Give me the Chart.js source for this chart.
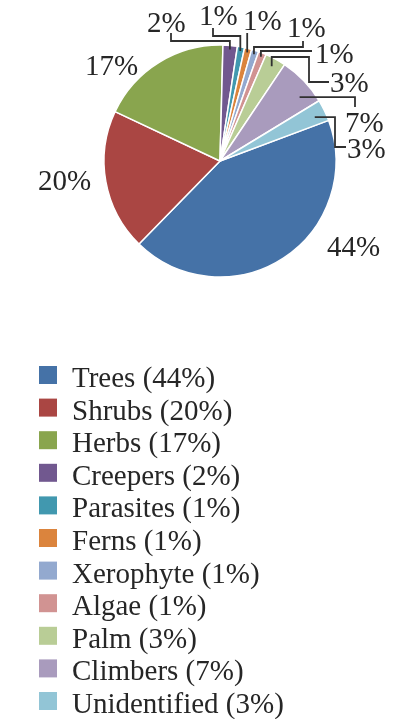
<!DOCTYPE html>
<html>
<head>
<meta charset="utf-8">
<script src="https://cdn.jsdelivr.net/npm/chart.js@4"></script>
<style>
   html, body { margin: 0; padding: 0; background: #fff; }
   #wrap { width: 416px; height: 719px; }
</style>
</head>
<body>
<div id="wrap"><canvas id="pieChart" width="416" height="719"></canvas></div>
<script>
// plant groups, in legend order
const categories = ['Trees', 'Shrubs', 'Herbs', 'Creepers', 'Parasites', 'Ferns',
   'Xerophyte', 'Algae', 'Palm', 'Climbers', 'Unidentified'];
// slice sizes (%)
const shares = [43, 19.7, 18.4, 2, 1, 1, 1, 1.1, 2.9, 6.9, 3];
// percentages printed on the chart and in the legend
const shownPct = [44, 20, 17, 2, 1, 1, 1, 1, 3, 7, 3];

const colors = ['#4572A7', '#AA4643', '#89A54E', '#71588F', '#4198AF', '#DB843D',
   '#93A9CF', '#D19392', '#B9CD96', '#A99BBD', '#92C5D6'];

const textColor = '#262626';
const serif = '"Liberation Serif", "DejaVu Serif", serif';

// label placement: text left/baseline, leader anchor (t along slice, k of radius),
// and route points (null = take that coordinate from the anchor)
const labelLayout = [
   { x: 327, y: 256 },
   { x: 38, y: 190 },
   { x: 85, y: 75 },
   { x: 147, y: 32, t: 0.5, k: 0.965, route: [[null, 41], [171, 41], [171, 33]] },
   { x: 199, y: 25, t: 0.5, k: 0.965, route: [[null, 36], [213, 36], [213, 28]] },
   { x: 243, y: 30, t: 0.5, k: 0.965, route: [[null, 33]] },
   { x: 287, y: 37, t: 0.5, k: 0.965, route: [[null, 47], [303, 47], [303, 41]] },
   { x: 315, y: 63, t: 0.5, k: 0.965, route: [[null, 51], [312, 51]] },
   { x: 330, y: 92, t: 0.5, k: 0.93, route: [[null, 57], [309, 57], [309, 82], [329, 82]] },
   { x: 345, y: 132, t: 0.7, k: 0.88, route: [[355, null], [355, 107]] },
   { x: 347, y: 158, t: 0.6, k: 0.9, route: [[335, null], [335, 147], [346, 147]] }
];

const pieLabels = {
   id: 'pieLabels',
   afterDatasetsDraw(chart) {
      const ctx = chart.ctx;
      const arcs = chart.getDatasetMeta(0).data;
      ctx.save();
      ctx.strokeStyle = '#303030';
      ctx.lineWidth = 1.8;
      ctx.lineJoin = 'miter';
      arcs.forEach((arc, i) => {
         const lay = labelLayout[i];
         if (lay.route) {
            const a = arc.startAngle + (arc.endAngle - arc.startAngle) * lay.t;
            const r = arc.outerRadius * lay.k;
            const ax = arc.x + Math.cos(a) * r;
            const ay = arc.y + Math.sin(a) * r;
            ctx.beginPath();
            ctx.moveTo(ax, ay);
            lay.route.forEach(p => {
               ctx.lineTo(p[0] === null ? ax : p[0], p[1] === null ? ay : p[1]);
            });
            ctx.stroke();
         }
      });
      ctx.fillStyle = textColor;
      ctx.font = '29px ' + serif;
      ctx.textAlign = 'left';
      ctx.textBaseline = 'alphabetic';
      arcs.forEach((arc, i) => {
         ctx.fillText(shownPct[i] + '%', labelLayout[i].x, labelLayout[i].y);
      });
      ctx.restore();
   }
};

// legend drawn as one column under the pie
const columnLegend = {
   id: 'columnLegend',
   afterDraw(chart) {
      const ctx = chart.ctx;
      const ds = chart.data.datasets[0];
      ctx.save();
      ctx.font = '29px ' + serif;
      ctx.textBaseline = 'alphabetic';
      chart.data.labels.forEach((label, i) => {
         const top = 366 + i * 32.6;
         ctx.fillStyle = ds.backgroundColor[i];
         ctx.fillRect(39, top, 18, 18);
         ctx.fillStyle = textColor;
         ctx.fillText(label + ' (' + shownPct[i] + '%)', 72, top + 21);
      });
      ctx.restore();
   }
};

const chart = new Chart(document.getElementById('pieChart'), {
   type: 'pie',
   data: {
      labels: categories,
      datasets: [{
         data: shares,
         backgroundColor: colors,
         borderColor: '#ffffff',
         borderWidth: 1.5
      }]
   },
   options: {
      responsive: false,
      animation: false,
      rotation: 69.5,
      radius: 116,
      layout: {
         padding: { left: 104, right: 80, top: 45, bottom: 442 }
      },
      plugins: {
         legend: { display: false },
         tooltip: { enabled: false }
      }
   },
   plugins: [pieLabels, columnLegend]
});
</script>
</body>
</html>
